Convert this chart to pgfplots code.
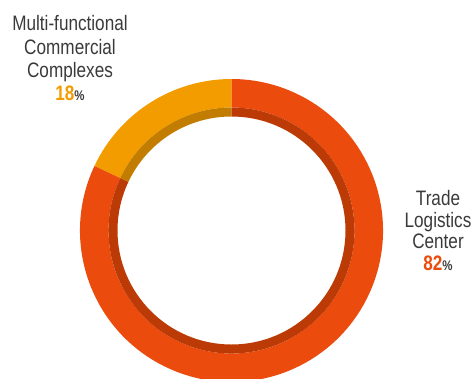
\documentclass[border=0pt]{standalone}
\usepackage{pgfplots}
\pgfplotsset{compat=1.18}
\usepackage{pgfplotstable}
\usetikzlibrary{calc}
\usepackage{fontspec}
\setmainfont{Liberation Sans}[FakeStretch=0.82]
\definecolor{cOrange}{HTML}{F29C00}
\definecolor{cRed}{HTML}{EB4B0D}
\definecolor{cOrangeDark}{HTML}{C27D00}
\definecolor{cRedDark}{HTML}{BC3A05}
\definecolor{txt}{HTML}{3A3A3A}

\pgfplotstableread{
label value
Multi 18
Trade 82
}\sharetable
\pgfplotstablegetelem{0}{value}\of\sharetable \let\va\pgfplotsretval
\pgfplotstablegetelem{1}{value}\of\sharetable \let\vb\pgfplotsretval
\pgfmathsetmacro{\aS}{90}
\pgfmathsetmacro{\aM}{90+3.6*\va}
\pgfmathsetmacro{\aE}{\aM+3.6*\vb}
\def\Ro{151.5bp}
\def\Rm{123bp}
\def\Ri{114bp}

\begin{document}
\begin{tikzpicture}
\begin{axis}[x=1bp,y=1bp,xmin=0,xmax=476,ymin=0,ymax=378,
  axis lines=none,ticks=none,scale only axis]
\coordinate (bl) at (axis cs:0,0);
\coordinate (tr) at (axis cs:476,378);
\coordinate (c) at (axis cs:231.5,147.5);
% orange sector
\fill[cOrange] (c) ++(\aS:\Ro) arc[start angle=\aS,end angle=\aM,radius=\Ro]
   -- ($(c)+(\aM:\Rm)$) arc[start angle=\aM,end angle=\aS,radius=\Rm] -- cycle;
\fill[cOrangeDark] (c) ++(\aS:\Rm) arc[start angle=\aS,end angle=\aM,radius=\Rm]
   -- ($(c)+(\aM:\Ri)$) arc[start angle=\aM,end angle=\aS,radius=\Ri] -- cycle;
% red sector
\fill[cRed] (c) ++(\aM:\Ro) arc[start angle=\aM,end angle=\aE,radius=\Ro]
   -- ($(c)+(\aE:\Rm)$) arc[start angle=\aE,end angle=\aM,radius=\Rm] -- cycle;
\fill[cRedDark] (c) ++(\aM:\Rm) arc[start angle=\aM,end angle=\aE,radius=\Rm]
   -- ($(c)+(\aE:\Ri)$) arc[start angle=\aE,end angle=\aM,radius=\Ri] -- cycle;
% labels
\tikzset{lab/.style={anchor=base,inner sep=0pt,text=txt,font=\fontsize{21}{23}\selectfont}}
\node[lab] at (axis cs:70,348) {Multi-functional};
\node[lab] at (axis cs:70,324) {Commercial};
\node[lab] at (axis cs:70,301) {Complexes};
\node[lab] at (axis cs:70,278) {\textcolor{cOrange}{\textbf{\va}}{\fontsize{14}{14}\selectfont\textbf{\%}}};
\node[lab] at (axis cs:438,173) {Trade};
\node[lab] at (axis cs:438,151) {Logistics};
\node[lab] at (axis cs:438,130) {Center};
\node[lab] at (axis cs:438,108) {\textcolor{cRed}{\textbf{\vb}}{\fontsize{14}{14}\selectfont\textbf{\%}}};
\end{axis}
\pgfresetboundingbox
\path[use as bounding box] (bl) rectangle (tr);
\end{tikzpicture}
\end{document}
